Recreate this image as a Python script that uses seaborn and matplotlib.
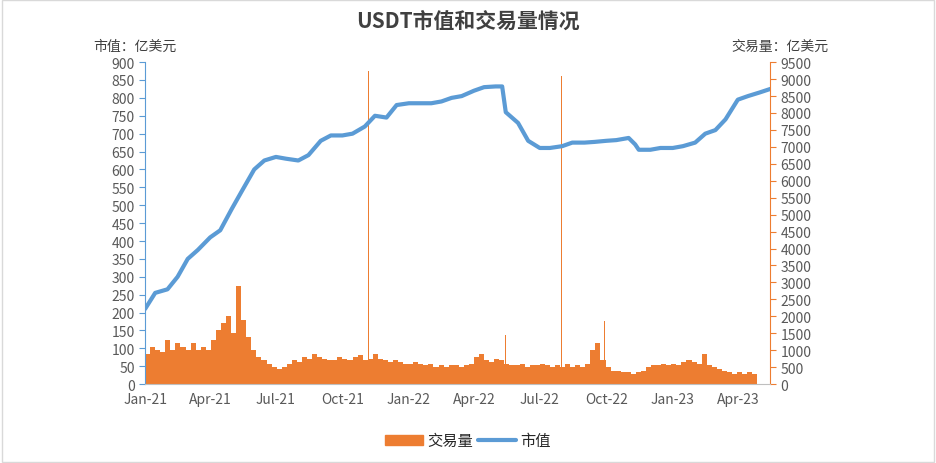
import pandas as pd
import numpy as np
import matplotlib.pyplot as plt
import matplotlib.dates as mdates
import seaborn as sns
from matplotlib.patches import Patch
from matplotlib.lines import Line2D

# ==========================================
# DATA
# ==========================================

# market cap, semi-monthly, 亿美元 (left axis)
cap_dates = ["2021-01-01", "2021-01-15", "2021-02-01", "2021-02-15", "2021-03-01", "2021-03-15",
             "2021-04-01", "2021-04-15", "2021-05-01", "2021-05-15", "2021-06-01", "2021-06-15",
             "2021-07-01", "2021-07-15", "2021-08-01", "2021-08-15", "2021-09-01", "2021-09-15",
             "2021-10-01", "2021-10-15", "2021-11-01", "2021-11-15", "2021-12-01", "2021-12-15",
             "2022-01-01", "2022-01-15", "2022-02-01", "2022-02-15", "2022-03-01", "2022-03-15",
             "2022-04-01", "2022-04-15", "2022-05-01", "2022-05-10", "2022-05-15", "2022-06-01",
             "2022-06-15", "2022-07-01", "2022-07-15", "2022-08-01", "2022-08-15", "2022-09-01",
             "2022-09-15", "2022-10-01", "2022-10-15", "2022-11-01", "2022-11-10", "2022-11-15",
             "2022-12-01", "2022-12-15", "2023-01-01", "2023-01-15", "2023-02-01", "2023-02-15",
             "2023-03-01", "2023-03-15", "2023-04-01", "2023-04-15", "2023-05-01", "2023-05-16"]
cap_values = [210, 255, 265, 300, 350, 375,
              410, 430, 490, 540, 600, 625,
              635, 630, 625, 640, 680, 695,
              695, 700, 720, 750, 745, 780,
              785, 785, 785, 790, 800, 805,
              820, 830, 832, 832, 760, 730,
              680, 660, 660, 665, 675, 675,
              677, 680, 682, 688, 670, 655,
              655, 660, 660, 665, 675, 700,
              710, 740, 795, 805, 815, 825]

# weekly trading volume, 亿美元 (right axis), starting 2021-01-01
vol_start = "2021-01-01"
vol_values = [900, 1100, 1000, 950,
              1300, 1000, 1200, 1100,
              1000, 1200, 1000, 1100,
              1000, 1300, 1600, 1800,
              2000, 1500, 2900, 1900, 1400,
              1000, 800, 700, 600,
              500, 450, 500, 600,
              700, 650, 800, 750,
              900, 800, 750, 700,
              700, 800, 750, 700,
              800, 850, 700, 750,
              900, 750, 700, 650,
              700, 650, 600, 600,
              650, 600, 550, 600,
              500, 550, 500, 550,
              550, 500, 550, 600,
              800, 900, 700, 650,
              750, 700, 600, 550,
              550, 600, 500, 550,
              550, 600, 550, 500,
              550, 500, 600, 500,
              550, 500, 600, 1000,
              1200, 700, 500, 400,
              400, 350, 350, 300,
              350, 400, 500, 550,
              550, 600, 550, 600,
              550, 650, 700, 650,
              600, 900, 550, 500,
              450, 400, 350, 300,
              350, 300, 350, 300]

# single-day spikes
spike_dates = ["2021-11-06", "2022-07-31", "2022-09-29", "2022-05-14"]
spike_values = [9250, 9100, 1850, 1450]

# ==========================================
# PLOT
# ==========================================

sns.set_style("white")
plt.rcParams['font.family'] = ['Noto Sans CJK SC', 'DejaVu Sans']

blue = "#5B9BD5"
orange = "#ED7D31"

fig = plt.figure(figsize=(9.36, 4.64), dpi=100)
ax = fig.add_axes([0.155, 0.17, 0.668, 0.694])
ax2 = ax.twinx()

vol_dates = pd.date_range(vol_start, periods=len(vol_values), freq="7D")
ax2.bar(vol_dates, vol_values, width=7, align="edge", color=orange, linewidth=0)
ax2.bar(pd.to_datetime(spike_dates), spike_values, width=1.5, color=orange, linewidth=0)

cap_df = pd.DataFrame({"date": pd.to_datetime(cap_dates), "cap": cap_values})
sns.lineplot(data=cap_df, x="date", y="cap", ax=ax, color=blue, linewidth=3)
ax.set_zorder(ax2.get_zorder() + 1)
ax.patch.set_visible(False)

ax.set_ylim(0, 900)
ax.set_yticks(np.arange(0, 901, 50))
ax2.set_ylim(0, 9500)
ax2.set_yticks(np.arange(0, 9501, 500))
ax.set_xlim(pd.Timestamp("2021-01-01"), pd.Timestamp("2023-05-16"))
ax.xaxis.set_major_locator(mdates.MonthLocator(bymonth=[1, 4, 7, 10]))
ax.xaxis.set_major_formatter(mdates.DateFormatter("%b-%y"))
ax.set_xlabel("")
ax.set_ylabel("")

for a in (ax, ax2):
    for s in a.spines.values():
        s.set_visible(False)
    a.tick_params(labelsize=10, colors="#595959", length=0)
ax.spines["left"].set_visible(True)
ax.spines["left"].set_color(blue)
ax.spines["bottom"].set_visible(True)
ax.spines["bottom"].set_color("#BFBFBF")
ax2.spines["right"].set_visible(True)
ax2.spines["right"].set_color(orange)
ax.tick_params(axis="y", length=4, color=blue)
ax2.tick_params(axis="y", length=4, color=orange)
ax.tick_params(axis="x", pad=6)

fig.text(0.5, 0.94, "USDT市值和交易量情况", ha="center", fontsize=15,
         fontweight="bold", color="#404040")
fig.text(0.10, 0.89, "市值：亿美元", fontsize=10, color="#404040")
fig.text(0.885, 0.89, "交易量：亿美元", fontsize=10, color="#404040", ha="right")

handles = [Patch(color=orange, label="交易量"), Line2D([], [], color=blue, lw=3, label="市值")]
fig.legend(handles=handles, loc="lower center", ncol=2, frameon=False,
           bbox_to_anchor=(0.5, 0.0), fontsize=11, handlelength=2.5,
           handletextpad=0.3, columnspacing=0.3)

fig.patches.append(plt.Rectangle((0.002, 0.002), 0.996, 0.996, transform=fig.transFigure,
                                 fill=False, edgecolor="#D9D9D9", lw=1))

plt.savefig("out.png", dpi=100)
